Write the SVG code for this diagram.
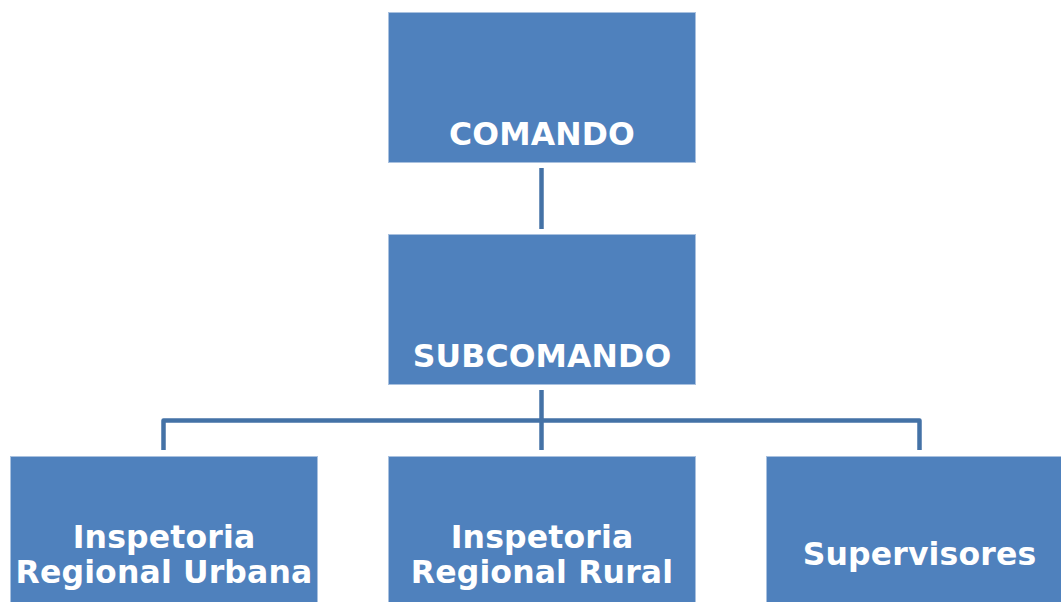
<svg xmlns="http://www.w3.org/2000/svg" width="1061" height="602" viewBox="0 0 1061 602">
<style>
.box{fill:#4f81bd;stroke:#a9c1df;stroke-width:1}
.lbl{font-family:"DejaVu Sans",Verdana,sans-serif;font-weight:bold;font-size:31.5px;letter-spacing:0.15px;fill:#ffffff;text-anchor:middle}
.con{stroke:#4472a6;stroke-width:4.5;fill:none;stroke-linejoin:round}
</style>
<rect width="1061" height="602" fill="#ffffff"/>
<g id="connectors">
<line class="con" x1="541.5" y1="168" x2="541.5" y2="229"/>
<line class="con" x1="541.5" y1="390" x2="541.5" y2="450"/>
<polyline class="con" points="163.5,450 163.5,420.5 919.5,420.5 919.5,450"/>
</g>
<g id="comando">
<rect class="box" x="388.5" y="12.5" width="307" height="150"/>
<text class="lbl" x="542" y="145">COMANDO</text>
</g>
<g id="subcomando">
<rect class="box" x="388.5" y="234.5" width="307" height="150"/>
<text class="lbl" x="542" y="367">SUBCOMANDO</text>
</g>
<g id="urbana">
<rect class="box" x="10.5" y="456.5" width="307" height="150"/>
<text class="lbl" x="164" y="548">Inspetoria</text>
<text class="lbl" x="164" y="583">Regional Urbana</text>
</g>
<g id="rural">
<rect class="box" x="388.5" y="456.5" width="307" height="150"/>
<text class="lbl" x="542" y="548">Inspetoria</text>
<text class="lbl" x="542" y="583">Regional Rural</text>
</g>
<g id="supervisores">
<rect class="box" x="766.5" y="456.5" width="307" height="150"/>
<text class="lbl" x="919.5" y="565">Supervisores</text>
</g>
</svg>
